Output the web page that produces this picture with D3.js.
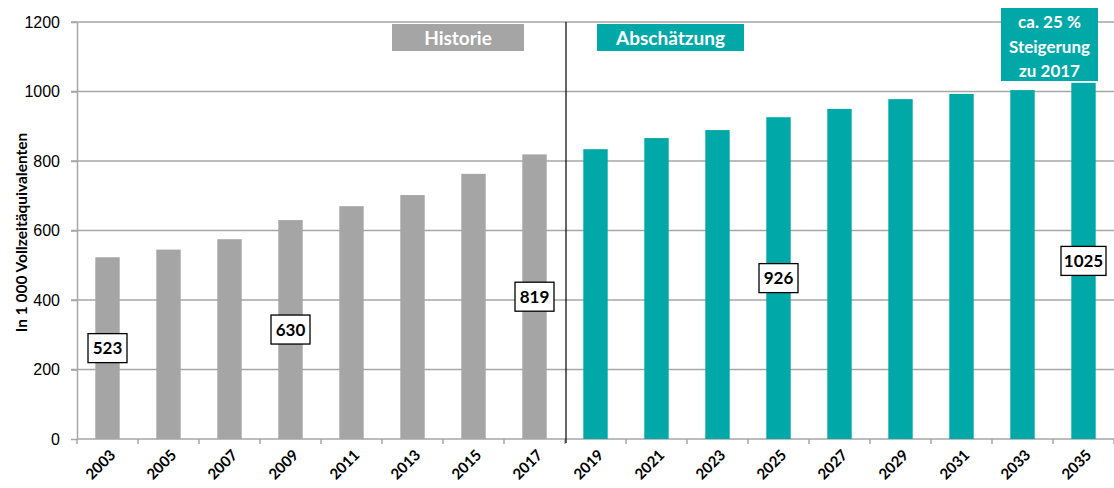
<!DOCTYPE html>
<html>
<head>
<meta charset="utf-8">
<script src="https://cdn.jsdelivr.net/npm/d3@7"></script>
<style>
  body { margin: 0; background: #fff; }
  svg { font-family: Lato, "Open Sans", sans-serif; display: block; }
  .grid line { stroke: #a6a6a6; stroke-width: 1.5; }
  .axis path, .axis line { stroke: #a6a6a6; stroke-width: 1.5; }
  .axis text { fill: #000; }
</style>
</head>
<body>
<div id="chart"></div>
<script>
var width = 1114;
var height = 488;

// data
var years = ["2003","2005","2007","2009","2011","2013","2015","2017",
             "2019","2021","2023","2025","2027","2029","2031","2033","2035"];
var values = [523, 545, 575, 630, 670, 702, 763, 819,
              834, 866, 889, 926, 950, 978, 993, 1004, 1025];
var kind = ["hist","hist","hist","hist","hist","hist","hist","hist",
            "proj","proj","proj","proj","proj","proj","proj","proj","proj"];
var labelled = ["2003","2009","2017","2025","2035"];
var yTicks = [0, 200, 400, 600, 800, 1000, 1200];

var grey = "#a5a5a5";
var teal = "#00a9a8";

var margin = {top: 22, right: 0, bottom: 49, left: 77};

var svg = d3.select("#chart")
  .append("svg")
  .attr("width", width)
  .attr("height", height);

var x = d3.scaleBand()
  .domain(years)
  .range([margin.left, width - margin.right])
  .paddingInner(0.6)
  .paddingOuter(0.3);

var y = d3.scaleLinear()
  .domain([0, 1200])
  .range([height - margin.bottom, margin.top]);

// grid
svg.append("g")
  .attr("class", "grid")
  .selectAll("line")
  .data(yTicks.filter(function(d) { return d > 0; }))
  .enter()
  .append("line")
  .attr("x1", margin.left - 6)
  .attr("x2", width)
  .attr("y1", function(d) { return y(d); })
  .attr("y2", function(d) { return y(d); });

// y axis
var yAxis = svg.append("g")
  .attr("class", "axis")
  .attr("transform", "translate(" + margin.left + ",0)")
  .call(d3.axisLeft(y).tickValues(yTicks).tickFormat(d3.format("d"))
    .tickSize(6).tickSizeOuter(0).tickPadding(11));
yAxis.selectAll("text").style("font-size", "16px");

// x axis: ticks between the bands
var step = x.step();
var x0 = x(years[0]) - x.paddingOuter() * step;
var bounds = d3.range(years.length + 1).map(function(i) { return x0 + i * step; });

var xg = svg.append("g").attr("class", "axis");
xg.append("line")
  .attr("x1", margin.left)
  .attr("x2", width)
  .attr("y1", y(0))
  .attr("y2", y(0));
xg.selectAll(".tk")
  .data(bounds)
  .enter()
  .append("line")
  .attr("class", "tk")
  .attr("x1", function(d) { return d; })
  .attr("x2", function(d) { return d; })
  .attr("y1", y(0))
  .attr("y2", y(0) + 5);

xg.selectAll(".yl")
  .data(years)
  .enter()
  .append("text")
  .attr("class", "yl")
  .attr("text-anchor", "end")
  .attr("font-weight", "bold")
  .style("font-size", "15px")
  .attr("transform", function(d) {
    return "translate(" + (x(d) + x.bandwidth() / 2 + 9) + "," + (y(0) + 17) + ") rotate(-45)";
  })
  .text(function(d) { return d; });

// y title
svg.append("text")
  .attr("transform", "translate(27," + ((y(0) + y(1200)) / 2 + 2) + ") rotate(-90)")
  .attr("text-anchor", "middle")
  .attr("font-weight", "bold")
  .style("font-size", "15.5px")
  .text("In 1 000 Vollzeitäquivalenten");

// bars
var data = years.map(function(d, i) { return {year: d, value: values[i], kind: kind[i]}; });

svg.append("g")
  .selectAll("rect")
  .data(data)
  .enter()
  .append("rect")
  .attr("x", function(d) { return x(d.year); })
  .attr("width", x.bandwidth())
  .attr("y", function(d) { return y(d.value); })
  .attr("height", function(d) { return y(0) - y(d.value); })
  .attr("fill", function(d) { return d.kind == "hist" ? grey : teal; });

// divider between history and estimate
svg.append("line")
  .attr("x1", bounds[8] + 1)
  .attr("x2", bounds[8] + 1)
  .attr("y1", y(1200))
  .attr("y2", y(0) + 4)
  .attr("stroke", "#000")
  .attr("stroke-width", 1.2);

// value labels
var lab = svg.append("g")
  .selectAll("g")
  .data(data.filter(function(d) { return labelled.indexOf(d.year) >= 0; }))
  .enter()
  .append("g")
  .attr("transform", function(d) {
    return "translate(" + (x(d.year) + x.bandwidth() / 2) + "," + y(d.value / 2) + ")";
  });
lab.append("rect")
  .attr("x", function(d) { return d.value >= 1000 ? -22.5 : -19.5; })
  .attr("width", function(d) { return d.value >= 1000 ? 45 : 39; })
  .attr("y", -14.5)
  .attr("height", 29)
  .attr("fill", "#fff")
  .attr("stroke", "#000")
  .attr("stroke-width", 1.3);
lab.append("text")
  .attr("text-anchor", "middle")
  .attr("dy", "0.36em")
  .attr("font-weight", "bold")
  .style("font-size", "17px")
  .text(function(d) { return d.value; });

// section headers
var headers = [
  {text: "Historie", x: 392, w: 132, fill: grey},
  {text: "Abschätzung", x: 597, w: 147, fill: teal}
];
var hg = svg.append("g")
  .selectAll("g")
  .data(headers)
  .enter()
  .append("g");
hg.append("rect")
  .attr("x", function(d) { return d.x; })
  .attr("y", 24)
  .attr("width", function(d) { return d.w; })
  .attr("height", 27)
  .attr("fill", function(d) { return d.fill; });
hg.append("text")
  .attr("x", function(d) { return d.x + d.w / 2; })
  .attr("y", 38)
  .attr("dy", "0.36em")
  .attr("text-anchor", "middle")
  .attr("fill", "#fff")
  .attr("font-weight", "bold")
  .style("font-size", "19px")
  .text(function(d) { return d.text; });

// growth note
var note = ["ca. 25 %", "Steigerung", "zu 2017"];
svg.append("rect")
  .attr("x", 1001)
  .attr("y", 8)
  .attr("width", 97)
  .attr("height", 73)
  .attr("fill", teal);
svg.append("g")
  .selectAll("text")
  .data(note)
  .enter()
  .append("text")
  .attr("x", 1049.5)
  .attr("y", function(d, i) { return 22 + i * 24.5; })
  .attr("dy", "0.36em")
  .attr("text-anchor", "middle")
  .attr("fill", "#fff")
  .attr("font-weight", "bold")
  .style("font-size", "17px")
  .text(function(d) { return d; });
</script>
</body>
</html>
